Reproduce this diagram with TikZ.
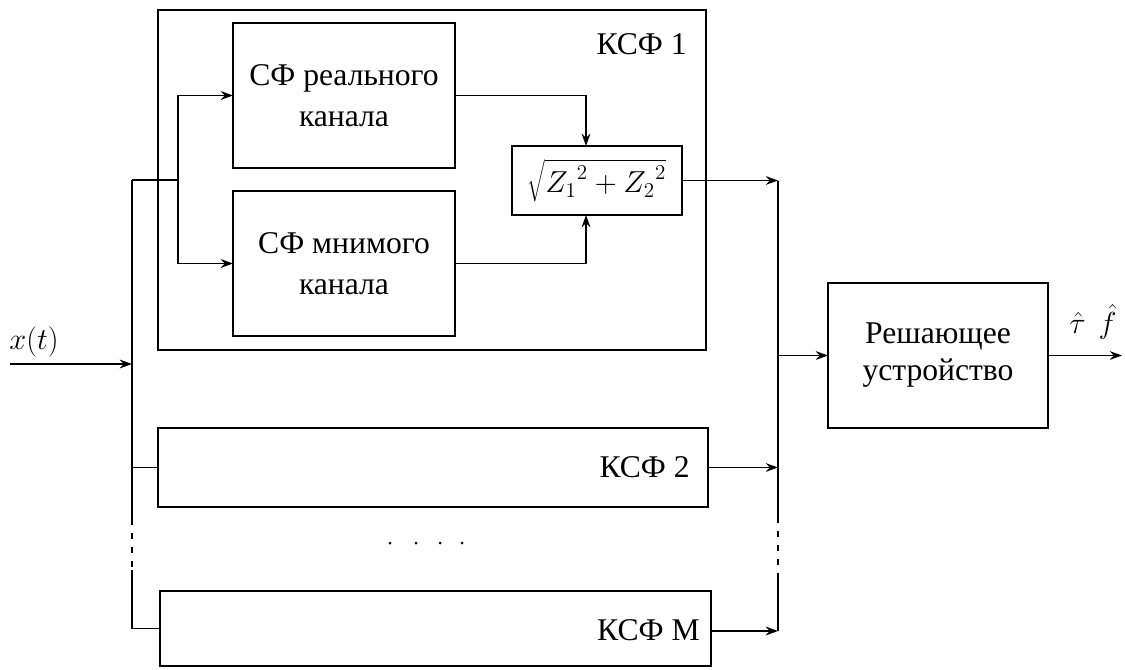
\documentclass[tikz,border=0pt]{standalone}
\usepackage{fontspec}
\setmainfont{Liberation Serif}
\usetikzlibrary{arrows.meta}
\newlength{\px}
\setlength{\px}{0.02cm}
\begin{document}
\begin{tikzpicture}[x=0.02cm,y=-0.02cm,
  box/.style={draw, line width=0.85pt, inner sep=0pt, outer sep=0pt, align=center,
    font=\fontsize{18}{23}\selectfont},
  wire/.style={line width=0.85pt},
  arr/.style={line width=0.85pt, -{Stealth[length=7pt,width=5pt]}},
  lbl/.style={font=\fontsize{18}{23}\selectfont, inner sep=0pt, anchor=east},
  dsh/.style={line width=0.85pt, dash pattern=on 6\px off 8\px}
]
\useasboundingbox (0,0) rectangle (1125,669);

% boxes
\node[box, minimum width=548\px, minimum height=340\px] (ksf1) at (432,180) {};
\node[box, minimum width=222\px, minimum height=145\px] (b1) at (344,95.5) {СФ реального\\канала};
\node[box, minimum width=222\px, minimum height=145\px] (b2) at (344,263.5) {СФ мнимого\\канала};
\node[box, minimum width=170\px, minimum height=69\px] (sq) at (597,180.5) {$\sqrt{{Z_1}^2+{Z_2}^2}$};
\node[box, minimum width=220\px, minimum height=145\px, font=\fontsize{18}{21}\selectfont] (dec) at (938,355.5) {Решающее\\устройство};
\node[box, minimum width=550\px, minimum height=79\px] (ksf2) at (433,467.5) {};
\node[box, minimum width=551\px, minimum height=75\px] (ksfm) at (435.5,628.5) {};

% labels
\node[lbl] (l1) at (687,44) {КСФ 1};
\node[lbl] (l2) at (690,467) {КСФ 2};
\node[lbl] (lm) at (700,630) {КСФ М};
\node[font=\fontsize{18}{23}\selectfont, inner sep=0pt] (xt) at (34,342) {$x(t)$};
\node[font=\fontsize{18}{23}\selectfont, inner sep=0pt] (tf) at (1093,322) {$\hat{\tau}\ \,\hat{f}$};

% coordinates
\coordinate (in) at (10,364);
\coordinate (lb) at (132,364);
\coordinate (lt) at (132,180);
\coordinate (lsplit) at (178,180);
\coordinate (l2b) at (132,467.5);
\coordinate (lmb) at (132,628.5);
\coordinate (ld1) at (132,519);
\coordinate (ld2) at (132,570);
\coordinate (rt) at (778,180.5);
\coordinate (rd) at (778,355.5);
\coordinate (r2) at (778,467.5);
\coordinate (rm) at (778,631);
\coordinate (rd1) at (778,517);
\coordinate (rd2) at (778,574);
\coordinate (out) at (1122,355.5);
\coordinate (sqa) at (586,146);

% left side
\draw[arr] (in) -- (lb);
\draw[wire] (lt) -- (ld1);
\draw[dsh] (ld1) -- (ld2);
\draw[wire] (ld2) -- (lmb);
\draw[wire] (lt) -- (lsplit);
\draw[wire] (lsplit |- b1.west) -- (lsplit |- b2.west);
\draw[arr] (lsplit |- b1.west) -- (b1.west);
\draw[arr] (lsplit |- b2.west) -- (b2.west);
\draw[wire] (l2b) -- (ksf2.west);
\draw[wire] (lmb) -- (ksfm.west);

% into sqrt
\draw[arr] (b1.east) -| (sqa |- sq.north);
\draw[arr] (b2.east) -| (sqa |- sq.south);

% right bus
\draw[arr] (sq.east) -- (rt);
\draw[wire] (rt) -- (rd1);
\draw[dsh] (rd1) -- (rd2);
\draw[wire] (rd2) -- (rm);
\draw[arr] (ksf2.east) -- (r2);
\draw[arr] (ksfm.east |- rm) -- (rm);
\draw[arr] (rd) -- (dec.west);
\draw[arr] (dec.east) -- (out);

% dots
\foreach \xx in {390,416,440,462} \fill (\xx,543) circle (1.5);
\end{tikzpicture}
\end{document}
